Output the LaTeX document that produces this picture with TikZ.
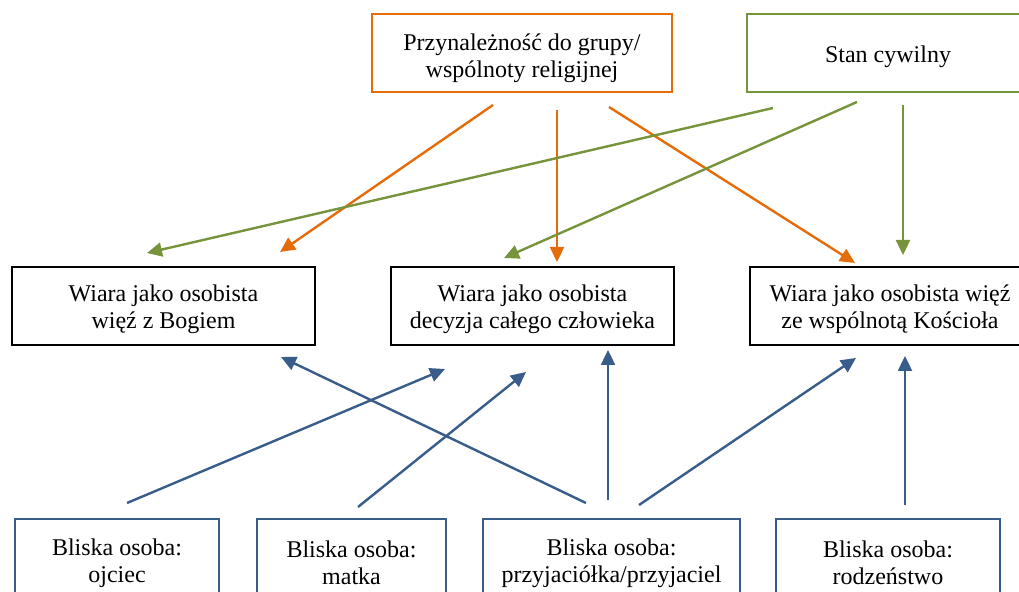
\documentclass[tikz,border=0pt]{standalone}
\usepackage{fontspec}
\setmainfont{Liberation Serif}
\usetikzlibrary{arrows.meta}
\definecolor{relorange}{RGB}{228,108,10}
\definecolor{civgreen}{RGB}{119,147,60}
\definecolor{kinblue}{RGB}{56,93,138}
\tikzset{
  box/.style={draw, rectangle, inner sep=0pt},
  faithbox/.style={box, draw=black, line width=1.4pt},
  srcbox/.style={box, line width=1pt},
  txt/.style={align=center, inner sep=0pt,
    font=\fontsize{12pt}{13.5pt}\selectfont},
  link/.style={line width=1.2pt, -{Triangle[length=7.5pt,width=7pt]}},
}
\begin{document}
\begin{tikzpicture}[x=0.5pt, y=-0.5pt]
\useasboundingbox (0,0) rectangle (1019,592);
\clip (0,0) rectangle (1019,592);
\fill[white] (0,0) rectangle (1019,592);

% sources at the top
\node[srcbox, draw=relorange, minimum width=150pt, minimum height=39pt] (grupa) at (522,53) {};
\node[txt] (grupa-t) at ([yshift=-2.5pt]grupa.center) {Przynależność do grupy/\\wspólnoty religijnej};
\node[srcbox, draw=civgreen, minimum width=141pt, minimum height=39pt] (stan) at (888,53) {};
\node[txt] (stan-t) at ([yshift=-2pt]stan.center) {Stan cywilny};

% three aspects of faith
\node[faithbox, minimum width=151.5pt, minimum height=39pt] (bog) at (163.5,306) {};
\node[txt] (bog-t) at ([yshift=-1.5pt]bog.center) {Wiara jako osobista\\więź z Bogiem};
\node[faithbox, minimum width=141.5pt, minimum height=39pt] (decyzja) at (532.5,306) {};
\node[txt] (decyzja-t) at ([yshift=-1.5pt]decyzja.center) {Wiara jako osobista\\decyzja całego człowieka};
\node[faithbox, minimum width=140pt, minimum height=39pt] (kosciol) at (890,306) {};
\node[txt] (kosciol-t) at ([yshift=-1.5pt]kosciol.center) {Wiara jako osobista więź\\ze wspólnotą Kościoła};

% close persons at the bottom
\node[srcbox, draw=kinblue, minimum width=102pt, minimum height=42pt] (ojciec) at (117,561) {};
\node[txt] (ojciec-t) at ([yshift=-1pt]ojciec.center) {Bliska osoba:\\ojciec};
\node[srcbox, draw=kinblue, minimum width=94.5pt, minimum height=42pt] (matka) at (351.5,561) {};
\node[txt] (matka-t) at ([yshift=-1pt]matka.center) {Bliska osoba:\\matka};
\node[srcbox, draw=kinblue, minimum width=128.5pt, minimum height=42pt] (przyj) at (611.5,561) {};
\node[txt] (przyj-t) at ([yshift=-1pt]przyj.center) {Bliska osoba:\\przyjaciółka/przyjaciel};
\node[srcbox, draw=kinblue, minimum width=112pt, minimum height=42pt] (rodz) at (888,561) {};
\node[txt] (rodz-t) at ([yshift=-1pt]rodz.center) {Bliska osoba:\\rodzeństwo};

% free ends of the connectors
\coordinate (g1) at (493,105);  \coordinate (g1t) at (280,252);
\coordinate (g2) at (557,110);  \coordinate (g2t) at (557,262);
\coordinate (g3) at (609,107);  \coordinate (g3t) at (855,263);
\coordinate (s1) at (773,108);  \coordinate (s1t) at (147,253);
\coordinate (s2) at (857,102);  \coordinate (s2t) at (504,258);
\coordinate (s3) at (903,105);  \coordinate (s3t) at (903,255);
\coordinate (b1) at (127,503);  \coordinate (b1t) at (445,369);
\coordinate (b2) at (358,507);  \coordinate (b2t) at (526,372);
\coordinate (b3) at (586,503);  \coordinate (b3t) at (281,357);
\coordinate (b4) at (608,500);  \coordinate (b4t) at (608,350);
\coordinate (b5) at (639,505);  \coordinate (b5t) at (856,358);
\coordinate (b6) at (905,505);  \coordinate (b6t) at (905,356);

% religious community
\draw[link, relorange] (g1) -- (g1t);
\draw[link, relorange] (g2) -- (g2t);
\draw[link, relorange] (g3) -- (g3t);
% marital status
\draw[link, civgreen] (s1) -- (s1t);
\draw[link, civgreen] (s2) -- (s2t);
\draw[link, civgreen] (s3) -- (s3t);
% close persons
\draw[link, kinblue] (b1) -- (b1t);
\draw[link, kinblue] (b2) -- (b2t);
\draw[link, kinblue] (b3) -- (b3t);
\draw[link, kinblue] (b4) -- (b4t);
\draw[link, kinblue] (b5) -- (b5t);
\draw[link, kinblue] (b6) -- (b6t);
\end{tikzpicture}
\end{document}
